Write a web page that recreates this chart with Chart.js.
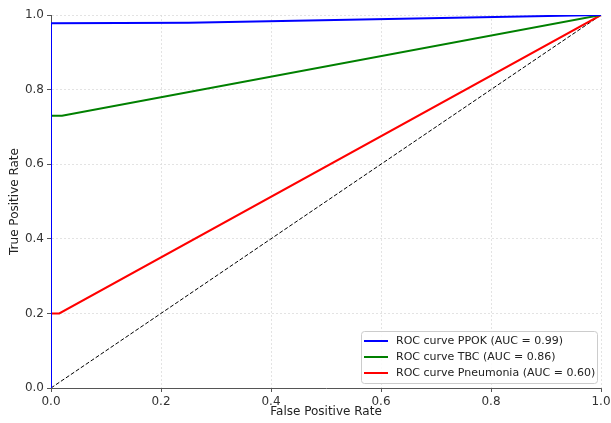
<!DOCTYPE html>
<html>
<head>
<meta charset="utf-8">
<script src="https://cdn.jsdelivr.net/npm/chart.js@4"></script>
<style>
  html, body { margin: 0; padding: 0; background: #fff; }
  #wrap { width: 611px; height: 423px; }
</style>
</head>
<body>
<div id="wrap"><canvas id="roc" width="611" height="423"></canvas></div>
<script>
// valores
const fprPPOK = [0, 0, 0.25, 1];
const tprPPOK = [0, 0.978, 0.979, 1];
const fprTBC = [0, 0, 0.02, 1];
const tprTBC = [0, 0.73, 0.73, 1];
const fprPneu = [0, 0, 0.015, 1];
const tprPneu = [0, 0.2, 0.2, 1];
const diagX = [0, 1];
const diagY = [0, 1];
const tickVals = [0, 0.2, 0.4, 0.6, 0.8, 1.0];

const seriesLabels = [
    'ROC curve PPOK (AUC = 0.99)',
    'ROC curve TBC (AUC = 0.86)',
    'ROC curve Pneumonia (AUC = 0.60)'
];
const seriesColors = ['#0000ff', '#008000', '#ff0000'];

function pts(xs, ys) {
    return xs.map((x, i) => ({ x: x, y: ys[i] }));
}

const FONT = 'DejaVu Sans';

// legenda dentro da área do gráfico, canto inferior direito
const insideLegend = {
    id: 'insideLegend',
    afterDraw(chart) {
        const ctx = chart.ctx;
        const a = chart.chartArea;
        const w = 236, h = 52;
        const x0 = a.right - 4 - w;
        const y0 = a.bottom - 5 - h;
        ctx.save();
        ctx.fillStyle = 'rgba(255,255,255,0.85)';
        ctx.strokeStyle = '#cccccc';
        ctx.lineWidth = 1;
        ctx.beginPath();
        ctx.roundRect(x0 + 0.5, y0 + 0.5, w, h, 3);
        ctx.fill();
        ctx.stroke();
        ctx.font = '11px ' + FONT;
        ctx.textBaseline = 'middle';
        ctx.fillStyle = '#222';
        seriesLabels.forEach((lab, i) => {
            const yy = y0 + 10 + i * 16;
            ctx.strokeStyle = seriesColors[i];
            ctx.lineWidth = 2;
            ctx.beginPath();
            ctx.moveTo(x0 + 3, yy);
            ctx.lineTo(x0 + 27, yy);
            ctx.stroke();
            ctx.fillText(lab, x0 + 35, yy);
        });
        ctx.restore();
    }
};

const axisCommon = {
    type: 'linear',
    min: 0,
    max: 1,
    afterBuildTicks: s => { s.ticks = tickVals.map(v => ({ value: v })); },
    ticks: {
        color: '#333',
        font: { family: FONT, size: 12 },
        padding: 3,
        callback: v => v.toFixed(1)
    },
    grid: {
        color: '#dcdcdc',
        lineWidth: 0.8,
        tickLength: 4,
        tickColor: '#555',
        tickBorderDash: [],
        tickWidth: 1
    },
    border: { display: true, color: '#555', width: 1, dash: [2, 2] }
};

new Chart(document.getElementById('roc'), {
    type: 'scatter',
    data: {
        datasets: [
            { label: seriesLabels[0], data: pts(fprPPOK, tprPPOK), borderColor: seriesColors[0], borderWidth: 2, showLine: true, pointRadius: 0, order: 1 },
            { label: seriesLabels[1], data: pts(fprTBC, tprTBC), borderColor: seriesColors[1], borderWidth: 2, showLine: true, pointRadius: 0, order: 2 },
            { label: seriesLabels[2], data: pts(fprPneu, tprPneu), borderColor: seriesColors[2], borderWidth: 2, showLine: true, pointRadius: 0, order: 3 },
            { label: 'diag', data: pts(diagX, diagY), borderColor: '#000', borderWidth: 1, borderDash: [4, 2], showLine: true, pointRadius: 0, order: 4 }
        ]
    },
    options: {
        responsive: false,
        animation: false,
        layout: { padding: { left: 0, right: 10, top: 15, bottom: 0 } },
        plugins: {
            legend: { display: false },
            tooltip: { enabled: false }
        },
        scales: {
            x: Object.assign({}, axisCommon, {
                position: 'bottom',
                afterFit: s => { s.height = 35; s.paddingRight = 0; s.paddingLeft = 0; },
                title: { display: true, text: 'False Positive Rate', color: '#222', font: { family: FONT, size: 12 }, padding: { top: 0, bottom: 4 } }
            }),
            y: Object.assign({}, axisCommon, {
                position: 'left',
                afterFit: s => { s.width = 51; s.paddingTop = 0; s.paddingBottom = 0; },
                title: { display: true, text: 'True Positive Rate', color: '#222', font: { family: FONT, size: 12 }, padding: { top: 8, bottom: 0 } }
            })
        }
    },
    plugins: [insideLegend]
});
</script>
</body>
</html>
